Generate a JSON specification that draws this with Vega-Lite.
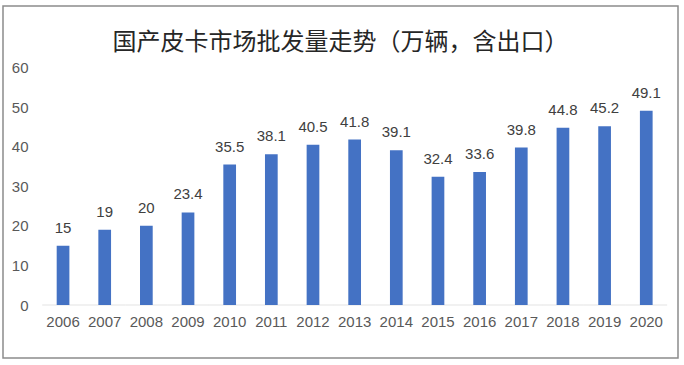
{
  "$schema": "https://vega.github.io/schema/vega-lite/v6.json",
  "width": 675,
  "height": 352,
  "autosize": {"type": "none"},
  "padding": {"left": 3, "top": 6, "right": 6, "bottom": 7},
  "background": "white",
  "title": {
    "text": "国产皮卡市场批发量走势（万辆，含出口）",
    "font": "Noto Sans CJK SC",
    "fontSize": 24,
    "fontWeight": "normal",
    "color": "#262626",
    "anchor": "middle",
    "offset": -49
  },
  "config": {
    "view": {"stroke": "#8c8c8c", "strokeWidth": 1.5, "fill": "white"},
    "font": "Liberation Sans"
  },
  "data": {
    "values": [
      {"year": "2006", "value": 15},
      {"year": "2007", "value": 19},
      {"year": "2008", "value": 20},
      {"year": "2009", "value": 23.4},
      {"year": "2010", "value": 35.5},
      {"year": "2011", "value": 38.1},
      {"year": "2012", "value": 40.5},
      {"year": "2013", "value": 41.8},
      {"year": "2014", "value": 39.1},
      {"year": "2015", "value": 32.4},
      {"year": "2016", "value": 33.6},
      {"year": "2017", "value": 39.8},
      {"year": "2018", "value": 44.8},
      {"year": "2019", "value": 45.2},
      {"year": "2020", "value": 49.1}
    ]
  },
  "encoding": {
    "x": {
      "field": "year",
      "type": "nominal",
      "sort": null,
      "scale": {"paddingInner": 0.695, "paddingOuter": 0.949, "align": 0.679},
      "axis": {
        "title": null,
        "orient": "bottom",
        "offset": -44,
        "domain": false,
        "ticks": false,
        "tickSize": 0,
        "labelPadding": 0,
        "labelAngle": 0,
        "labelFontSize": 15,
        "labelColor": "#595959",
        "labelBaseline": "top"
      }
    },
    "y": {
      "field": "value",
      "type": "quantitative",
      "scale": {"domain": [-13.39, 75.56], "nice": false, "zero": false},
      "axis": {
        "title": null,
        "values": [0, 10, 20, 30, 40, 50, 60],
        "offset": -25,
        "domain": false,
        "ticks": false,
        "tickSize": 0,
        "labelPadding": 0,
        "grid": false,
        "labelFontSize": 15,
        "labelColor": "#595959"
      }
    }
  },
  "layer": [
    {
      "mark": {"type": "tick", "orient": "horizontal", "size": 41.7, "thickness": 1, "color": "#d9d9d9"},
      "encoding": {"y": {"datum": 0}}
    },
    {
      "mark": {"type": "bar", "color": "#4472C4"},
      "encoding": {"y2": {"datum": 0}}
    },
    {
      "mark": {"type": "text", "baseline": "alphabetic", "dy": -13, "fontSize": 15, "color": "#404040"},
      "encoding": {"text": {"field": "value", "type": "quantitative"}}
    }
  ]
}
